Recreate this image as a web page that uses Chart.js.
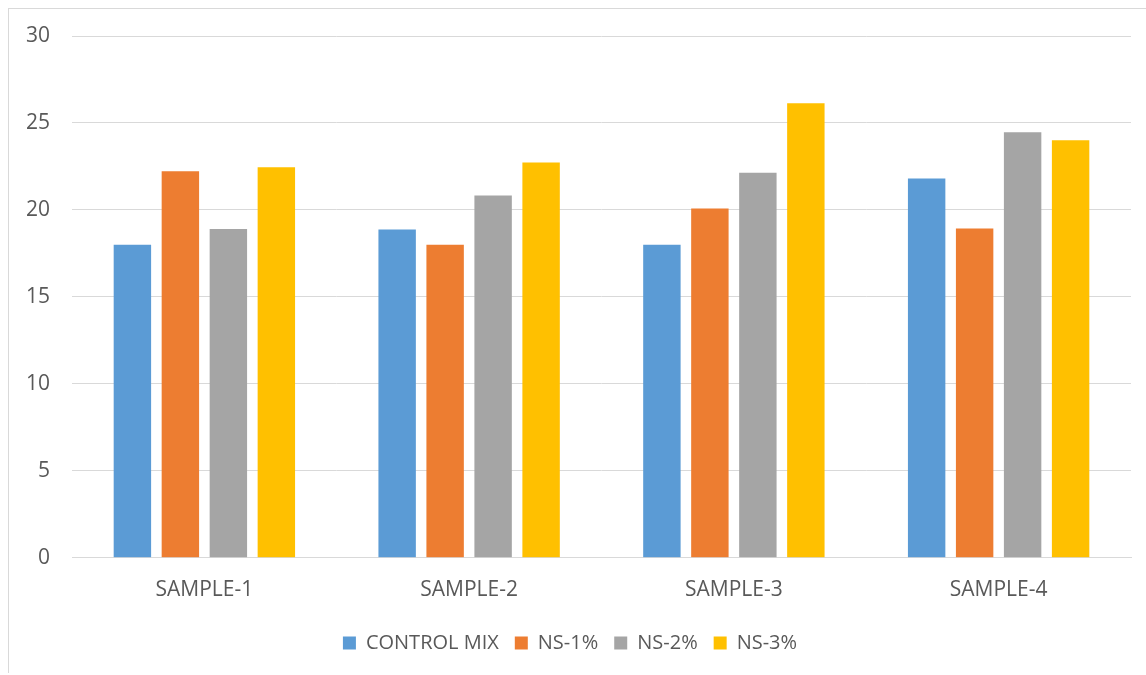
<!DOCTYPE html>
<html>
<head>
<meta charset="utf-8">
<script src="https://cdn.jsdelivr.net/npm/chart.js@4"></script>
<style>
  html, body { margin: 0; padding: 0; background: #fff; }
  #wrap { position: relative; width: 1146px; height: 675px; overflow: hidden; }
  #frame { position: absolute; left: 8px; top: 8px; width: 1200px; height: 664px;
           border-left: 1px solid #d9d9d9; border-top: 1px solid #d9d9d9; pointer-events: none; }
  canvas { position: absolute; left: 0; top: 0; }
</style>
</head>
<body>
<div id="wrap">
  <canvas id="c" width="1146" height="675"></canvas>
  <div id="frame"></div>
</div>
<script>
const categories = ['SAMPLE-1', 'SAMPLE-2', 'SAMPLE-3', 'SAMPLE-4'];
const controlMix = [18.0, 18.87, 18.0, 21.81];
const ns1 = [22.22, 18.0, 20.08, 18.93];
const ns2 = [18.9, 20.83, 22.14, 24.47];
const ns3 = [22.45, 22.72, 26.14, 24.0];
const yTicks = [0, 5, 10, 15, 20, 25, 30];

const textColor = '#595959';
const fontFamily = "'Open Sans', 'Liberation Sans', sans-serif";
const axisFont = { family: fontFamily, size: 21 };
const legendFont = { family: fontFamily, size: 20 };

const mk = (label, data, color) => ({
  label, data, backgroundColor: color, borderWidth: 0,
  categoryPercentage: 0.725, barPercentage: 0.78
});

new Chart(document.getElementById('c'), {
  type: 'bar',
  data: {
    labels: categories,
    datasets: [
      mk('CONTROL MIX', controlMix, '#5B9BD5'),
      mk('NS-1%', ns1, '#ED7D31'),
      mk('NS-2%', ns2, '#A5A5A5'),
      mk('NS-3%', ns3, '#FFC000')
    ]
  },
  options: {
    responsive: false,
    animation: false,
    devicePixelRatio: 1,
    layout: { padding: { left: 9, right: 15, top: 36, bottom: 12 } },
    plugins: {
      tooltip: { enabled: false },
      legend: {
        position: 'bottom',
        labels: {
          color: textColor,
          font: legendFont,
          boxWidth: 13, boxHeight: 13, padding: 16
        }
      }
    },
    scales: {
      x: {
        grid: { display: false, drawTicks: false },
        border: { display: true, color: '#d9d9d9', width: 1 },
        ticks: { color: textColor, font: axisFont, padding: 20 },
        afterFit: s => { s.height -= 6; }
      },
      y: {
        min: 0, max: 30,
        afterBuildTicks: s => { s.ticks = yTicks.map(v => ({ value: v })); },
        afterFit: s => { s.width = 63; },
        grid: { color: '#d9d9d9', lineWidth: 1, drawTicks: false },
        border: { display: false },
        ticks: { color: textColor, font: axisFont, padding: 22 }
      }
    }
  }
});
</script>
</body>
</html>
